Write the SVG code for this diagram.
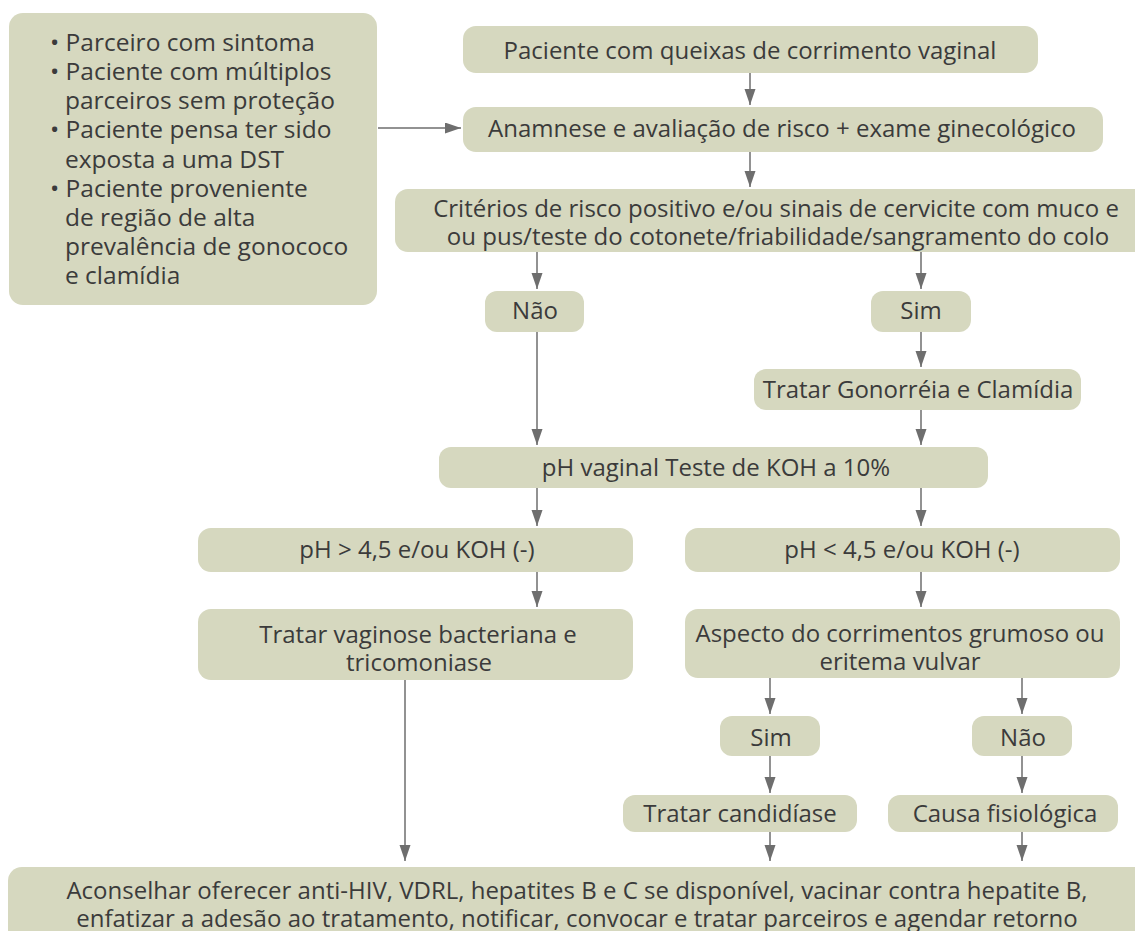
<svg xmlns="http://www.w3.org/2000/svg" width="1135" height="931" viewBox="0 0 1135 931">
  <defs>
    <marker id="ah" markerUnits="userSpaceOnUse" markerWidth="17" markerHeight="12" refX="16" refY="5.5" orient="auto">
      <path d="M0,0 L16,5.5 L0,11 Z" fill="#6e6e6e"/>
    </marker>
    <style>
      .box { fill: #d6d8bf; }
      .t { font-family: "Open Sans", "Noto Sans", "Liberation Sans", sans-serif; font-size: 24px; fill: #3b3b3b; text-anchor: middle; }
      .tl { font-family: "Open Sans", "Noto Sans", "Liberation Sans", sans-serif; font-size: 24.5px; fill: #3b3b3b; }
      .c { stroke: #6e6e6e; stroke-width: 1.5; fill: none; marker-end: url(#ah); }
    </style>
  </defs>
  <rect width="1135" height="931" fill="#ffffff"/>

  <g id="criterios-risco">
    <rect class="box" x="9" y="13" width="368" height="292" rx="14"/>
    <text class="tl" x="50" y="51">• Parceiro com sintoma</text>
    <text class="tl" x="50" y="80">• Paciente com múltiplos</text>
    <text class="tl" x="65" y="109">parceiros sem proteção</text>
    <text class="tl" x="50" y="138">• Paciente pensa ter sido</text>
    <text class="tl" x="65" y="168">exposta a uma DST</text>
    <text class="tl" x="50" y="197">• Paciente proveniente</text>
    <text class="tl" x="65" y="226">de região de alta</text>
    <text class="tl" x="65" y="255">prevalência de gonococo</text>
    <text class="tl" x="65" y="284">e clamídia</text>
  </g>

  <g id="queixa">
    <rect class="box" x="463" y="26" width="575" height="47" rx="13"/>
    <text class="t" x="750" y="59">Paciente com queixas de corrimento vaginal</text>
  </g>

  <g id="anamnese">
    <rect class="box" x="463" y="107" width="640" height="45" rx="13"/>
    <text class="t" x="782" y="137">Anamnese e avaliação de risco + exame ginecológico</text>
  </g>

  <g id="criterios">
    <rect class="box" x="395" y="189" width="760" height="63" rx="13"/>
    <text class="t" x="776" y="217">Critérios de risco positivo e/ou sinais de cervicite com muco e</text>
    <text class="t" x="778" y="245">ou pus/teste do cotonete/friabilidade/sangramento do colo</text>
  </g>

  <g id="nao1">
    <rect class="box" x="485" y="291" width="99" height="41" rx="12"/>
    <text class="t" x="535" y="319">Não</text>
  </g>

  <g id="sim1">
    <rect class="box" x="871" y="291" width="100" height="41" rx="12"/>
    <text class="t" x="921" y="319">Sim</text>
  </g>

  <g id="gonorreia">
    <rect class="box" x="754" y="369" width="327" height="41" rx="12"/>
    <text class="t" x="918" y="398">Tratar Gonorréia e Clamídia</text>
  </g>

  <g id="ph-vaginal">
    <rect class="box" x="439" y="447" width="549" height="41" rx="12"/>
    <text class="t" x="716" y="476">pH vaginal Teste de KOH a 10%</text>
  </g>

  <g id="ph-maior">
    <rect class="box" x="198" y="528" width="435" height="44" rx="13"/>
    <text class="t" x="417" y="558">pH &gt; 4,5 e/ou KOH (-)</text>
  </g>

  <g id="ph-menor">
    <rect class="box" x="685" y="528" width="435" height="44" rx="13"/>
    <text class="t" x="902" y="558">pH &lt; 4,5 e/ou KOH (-)</text>
  </g>

  <g id="vaginose">
    <rect class="box" x="198" y="609" width="435" height="71" rx="13"/>
    <text class="t" x="418" y="643">Tratar vaginose bacteriana e</text>
    <text class="t" x="419" y="671">tricomoniase</text>
  </g>

  <g id="aspecto">
    <rect class="box" x="685" y="609" width="435" height="69" rx="13"/>
    <text class="t" x="900" y="642">Aspecto do corrimentos grumoso ou</text>
    <text class="t" x="900" y="670">eritema vulvar</text>
  </g>

  <g id="sim2">
    <rect class="box" x="720" y="716" width="100" height="40" rx="12"/>
    <text class="t" x="771" y="746">Sim</text>
  </g>

  <g id="nao2">
    <rect class="box" x="972" y="716" width="100" height="40" rx="12"/>
    <text class="t" x="1023" y="746">Não</text>
  </g>

  <g id="candidiase">
    <rect class="box" x="623" y="795" width="234" height="37" rx="12"/>
    <text class="t" x="740" y="822">Tratar candidíase</text>
  </g>

  <g id="fisiologica">
    <rect class="box" x="888" y="795" width="230" height="37" rx="12"/>
    <text class="t" x="1005" y="822">Causa fisiológica</text>
  </g>

  <g id="aconselhar">
    <rect class="box" x="8" y="867" width="1150" height="80" rx="14"/>
    <text class="t" x="577" y="899">Aconselhar oferecer anti-HIV, VDRL, hepatites B e C se disponível, vacinar contra hepatite B,</text>
    <text class="t" x="577" y="927">enfatizar a adesão ao tratamento, notificar, convocar e tratar parceiros e agendar retorno</text>
  </g>

  <g id="connectors">
    <line class="c" x1="750" y1="73" x2="750" y2="105"/>
    <line class="c" x1="750" y1="152" x2="750" y2="187"/>
    <line class="c" x1="378" y1="128" x2="461" y2="128"/>
    <line class="c" x1="537" y1="252" x2="537" y2="289"/>
    <line class="c" x1="921" y1="252" x2="921" y2="289"/>
    <line class="c" x1="537" y1="332" x2="537" y2="445"/>
    <line class="c" x1="921" y1="332" x2="921" y2="367"/>
    <line class="c" x1="921" y1="410" x2="921" y2="445"/>
    <line class="c" x1="537" y1="488" x2="537" y2="526"/>
    <line class="c" x1="921" y1="488" x2="921" y2="526"/>
    <line class="c" x1="537" y1="572" x2="537" y2="607"/>
    <line class="c" x1="921" y1="572" x2="921" y2="607"/>
    <line class="c" x1="405" y1="680" x2="405" y2="861"/>
    <line class="c" x1="770" y1="678" x2="770" y2="714"/>
    <line class="c" x1="1022" y1="678" x2="1022" y2="714"/>
    <line class="c" x1="770" y1="756" x2="770" y2="793"/>
    <line class="c" x1="1022" y1="756" x2="1022" y2="793"/>
    <line class="c" x1="770" y1="832" x2="770" y2="861"/>
    <line class="c" x1="1022" y1="832" x2="1022" y2="861"/>
  </g>
</svg>
